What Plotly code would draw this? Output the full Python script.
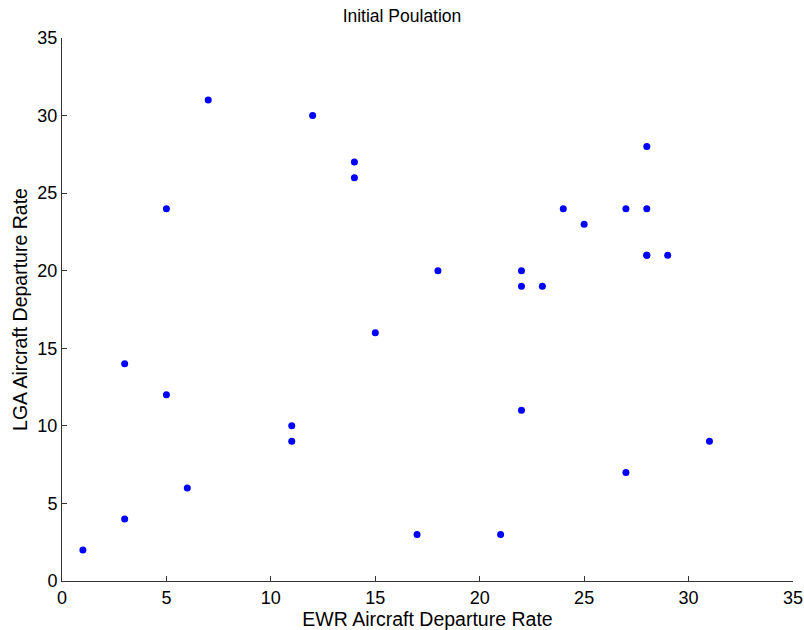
import plotly.graph_objects as go

ewr_rate = [1, 3, 3, 5, 5, 6, 7, 11, 11, 12, 14, 14, 15, 17, 18, 21, 22, 22, 22, 23, 24, 25, 27, 27, 28, 28, 28, 28, 29, 31]
lga_rate = [2, 4, 14, 12, 24, 6, 31, 10, 9, 30, 27, 26, 16, 3, 20, 3, 20, 19, 11, 19, 24, 23, 24, 7, 28, 24, 21, 21, 21, 9]
x_ticks = [0, 5, 10, 15, 20, 25, 30, 35]
y_ticks = [0, 5, 10, 15, 20, 25, 30, 35]

fig = go.Figure(go.Scatter(
    x=ewr_rate, y=lga_rate, mode="markers",
    marker=dict(color="#0000ff", size=7, line=dict(width=0)),
))

font = "Liberation Sans, Arial, sans-serif"
fig.update_layout(
    width=804, height=630, autosize=False,
    margin=dict(l=62, r=11, t=38, b=49, pad=0, autoexpand=False),
    paper_bgcolor="white", plot_bgcolor="white",
    showlegend=False,
    font=dict(family=font, color="#000000", size=18),
    title=dict(text="Initial Poulation", x=0.5, xanchor="center",
               y=1 - 16 / 630, yanchor="middle",
               font=dict(size=17.5, family=font)),
)
fig.update_xaxes(
    range=[0, 35], tickvals=x_ticks, ticktext=[str(v) for v in x_ticks],
    ticks="inside", ticklen=5, tickcolor="#333", showline=True, linecolor="#333",
    linewidth=1, showgrid=False, zeroline=False, mirror=False, automargin=False,
    tickfont=dict(size=18),
    title=dict(text="EWR Aircraft Departure Rate", font=dict(size=19.5), standoff=0),
)
fig.update_yaxes(
    range=[0, 35], tickvals=y_ticks, ticktext=[str(v) for v in y_ticks],
    ticks="inside", ticklen=5, tickcolor="#333", showline=True, linecolor="#333",
    linewidth=1, showgrid=False, zeroline=False, mirror=False, automargin=False,
    tickfont=dict(size=18),
    title=dict(text="LGA Aircraft Departure Rate", font=dict(size=19.5), standoff=4),
)

fig.write_html("out.html")
